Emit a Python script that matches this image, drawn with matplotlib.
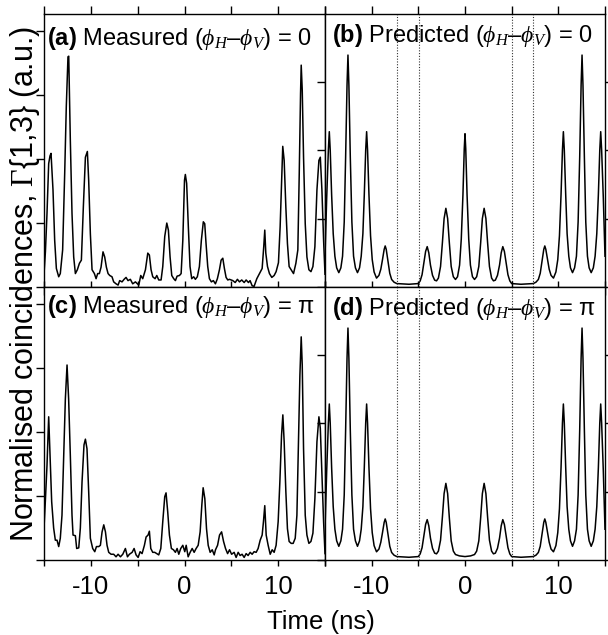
import numpy as np
import matplotlib
matplotlib.use('Agg')
import matplotlib.pyplot as plt

plt.rcParams['font.family'] = 'Liberation Sans'
plt.rcParams['mathtext.fontset'] = 'custom'
plt.rcParams['mathtext.rm'] = 'Liberation Sans'
plt.rcParams['mathtext.bf'] = 'Liberation Sans:bold'
plt.rcParams['mathtext.it'] = 'Liberation Serif:italic'
plt.rcParams['mathtext.sf'] = 'Liberation Serif'
plt.rcParams['axes.unicode_minus'] = False

# ---------------- data ---------------- #
# (a) measured, phase difference 0
xa = [-15.0, -14.85, -14.68, -14.50, -14.36, -14.25, -14.04, -13.86, -13.68, -13.43,
      -13.26, -13.01, -12.79, -12.62, -12.44, -12.36, -12.19, -12.01, -11.83, -11.65,
      -11.44, -11.22, -11.01, -10.80, -10.58, -10.37, -10.23, -10.05, -9.87, -9.62,
      -9.44, -9.27, -9.09, -8.91, -8.70, -8.52, -8.34, -8.16, -7.98, -7.74,
      -7.56, -7.31, -7.09, -6.92, -6.67, -6.45, -6.24, -6.03, -5.78, -5.53,
      -5.24, -4.88, -4.67, -4.46, -4.17, -3.92, -3.75, -3.57, -3.39, -3.14,
      -2.96, -2.75, -2.50, -2.32, -2.11, -1.89, -1.72, -1.54, -1.36, -1.15,
      -0.97, -0.79, -0.54, -0.36, -0.18, 0.0, 0.09, 0.23, 0.41, 0.59,
      0.77, 0.98, 1.16, 1.37, 1.59, 1.80, 2.01, 2.16, 2.30, 2.48,
      2.66, 2.87, 3.08, 3.30, 3.51, 3.73, 3.91, 4.09, 4.26, 4.44,
      4.62, 4.80, 5.16, 5.41, 5.65, 5.87, 6.11, 6.37, 6.58, 6.83,
      7.00, 7.22, 7.43, 7.72, 8.00, 8.29, 8.46, 8.57, 8.68, 8.86,
      9.07, 9.32, 9.57, 9.78, 10.03, 10.21, 10.39, 10.49, 10.64, 10.82,
      10.99, 11.17, 11.39, 11.64, 11.89, 12.10, 12.25, 12.39, 12.46, 12.57,
      12.71, 12.89, 13.07, 13.28, 13.50, 13.71, 13.92, 14.14, 14.35, 14.50,
      14.67, 14.85, 15.0]
ya = [0.20, 0.55, 1.15, 1.93, 2.05, 2.09, 1.52, 0.73, 0.29, 0.16,
      0.21, 0.58, 1.78, 2.82, 3.60, 3.61, 2.30, 1.15, 0.47, 0.21,
      0.27, 0.37, 0.42, 1.25, 2.03, 2.12, 1.67, 0.83, 0.27, 0.21,
      0.13, 0.21, 0.21, 0.31, 0.55, 0.47, 0.31, 0.21, 0.18, 0.16,
      0.08, 0.05, 0.03, 0.10, 0.08, 0.12, 0.15, 0.10, 0.12, 0.05,
      0.08, 0.03, 0.18, 0.13, 0.27, 0.53, 0.50, 0.27, 0.16, 0.13,
      0.18, 0.11, 0.11, 0.32, 0.79, 1.00, 0.89, 0.47, 0.18, 0.13,
      0.10, 0.17, 0.18, 0.21, 0.73, 1.67, 1.76, 1.62, 0.94, 0.32,
      0.13, 0.16, 0.12, 0.16, 0.32, 0.73, 1.02, 0.99, 0.68, 0.32,
      0.13, 0.08, 0.10, 0.05, 0.13, 0.27, 0.42, 0.45, 0.29, 0.15,
      0.11, 0.12, 0.10, 0.07, 0.12, 0.08, 0.11, 0.07, 0.11, 0.07,
      0.10, 0.02, 0.01, 0.13, 0.21, 0.29, 0.63, 0.89, 0.53, 0.32,
      0.21, 0.15, 0.18, 0.24, 0.38, 0.94, 1.77, 2.20, 1.98, 1.25,
      0.68, 0.32, 0.27, 0.21, 0.37, 0.58, 1.77, 3.03, 3.47, 3.08,
      2.03, 0.99, 0.47, 0.27, 0.24, 0.32, 0.63, 1.52, 1.98, 2.03,
      1.52, 0.73, 0.20]

# (c) measured, phase difference pi
xc = [-15.0, -14.86, -14.68, -14.50, -14.36, -14.18, -13.97, -13.79, -13.61, -13.43,
      -13.26, -13.08, -12.90, -12.72, -12.54, -12.37, -12.19, -12.01, -11.90, -11.65,
      -11.51, -11.29, -11.12, -10.94, -10.73, -10.58, -10.41, -10.23, -10.05, -9.80,
      -9.58, -9.40, -9.15, -8.98, -8.80, -8.62, -8.44, -8.27, -8.09, -7.84,
      -7.56, -7.31, -7.09, -6.84, -6.59, -6.31, -6.09, -5.88, -5.59, -5.38,
      -5.17, -4.95, -4.74, -4.53, -4.28, -4.10, -3.89, -3.75, -3.60, -3.39,
      -3.18, -2.96, -2.75, -2.53, -2.32, -2.11, -1.97, -1.79, -1.61, -1.40,
      -1.18, -0.97, -0.79, -0.61, -0.40, -0.18, 0.03, 0.18, 0.39, 0.60,
      0.82, 1.03, 1.24, 1.46, 1.67, 1.85, 1.99, 2.17, 2.35, 2.53,
      2.74, 2.96, 3.17, 3.31, 3.53, 3.74, 3.96, 4.17, 4.38, 4.60,
      4.81, 5.03, 5.30, 5.51, 5.73, 5.94, 6.15, 6.37, 6.58, 6.79,
      7.01, 7.22, 7.43, 7.65, 7.86, 8.08, 8.29, 8.43, 8.57, 8.72,
      8.93, 9.15, 9.36, 9.57, 9.78, 10.00, 10.18, 10.36, 10.50, 10.64,
      10.82, 10.99, 11.17, 11.39, 11.60, 11.82, 12.00, 12.17, 12.32, 12.46,
      12.57, 12.71, 12.89, 13.07, 13.28, 13.50, 13.71, 13.92, 14.14, 14.35,
      14.50, 14.67, 14.85, 15.0]
yc = [0.50, 0.91, 1.48, 2.24, 1.64, 0.91, 0.50, 0.31, 0.31, 0.21,
      0.34, 0.70, 1.64, 2.52, 3.05, 2.52, 1.64, 0.70, 0.39, 0.38,
      0.18, 0.19, 0.50, 1.22, 1.80, 1.89, 1.74, 1.07, 0.34, 0.18,
      0.13, 0.21, 0.21, 0.23, 0.44, 0.55, 0.44, 0.23, 0.12, 0.09,
      0.09, 0.05, 0.09, 0.05, 0.09, 0.18, 0.05, 0.09, 0.12, 0.18,
      0.08, 0.04, 0.13, 0.10, 0.23, 0.36, 0.39, 0.45, 0.18, 0.12,
      0.12, 0.10, 0.08, 0.18, 0.60, 0.99, 1.05, 0.75, 0.39, 0.18,
      0.16, 0.12, 0.18, 0.09, 0.18, 0.23, 0.13, 0.23, 0.05, 0.12,
      0.18, 0.12, 0.18, 0.23, 0.44, 0.86, 1.13, 0.96, 0.49, 0.23,
      0.12, 0.16, 0.08, 0.16, 0.23, 0.39, 0.44, 0.29, 0.18, 0.10,
      0.16, 0.09, 0.12, 0.04, 0.12, 0.07, 0.09, 0.04, 0.10, 0.07,
      0.12, 0.09, 0.13, 0.12, 0.18, 0.31, 0.39, 0.60, 0.85, 0.39,
      0.23, 0.09, 0.16, 0.12, 0.23, 0.60, 1.22, 1.95, 2.27, 1.85,
      1.07, 0.49, 0.29, 0.26, 0.26, 0.34, 0.70, 1.85, 2.89, 3.49,
      3.05, 1.74, 0.70, 0.39, 0.26, 0.29, 0.42, 0.96, 1.85, 2.24,
      2.06, 1.33, 0.60, 0.10]

# (b) predicted, phase difference 0
xb = [-15.0, -14.82, -14.64, -14.54, -14.44, -14.29, -14.12, -13.94, -13.75, -13.52,
      -13.30, -13.12, -12.94, -12.79, -12.64, -12.54, -12.44, -12.29, -12.12, -11.94,
      -11.74, -11.52, -11.30, -11.12, -10.94, -10.79, -10.64, -10.54, -10.44, -10.29,
      -10.12, -9.94, -9.74, -9.48, -9.22, -9.02, -8.84, -8.66, -8.55, -8.44,
      -8.26, -8.06, -7.86, -7.60, -7.30, -6.00, -5.00, -4.80, -4.60, -4.40,
      -4.22, -4.05, -3.88, -3.70, -3.48, -3.25, -3.05, -2.85, -2.62, -2.42,
      -2.24, -2.05, -1.86, -1.68, -1.48, -1.25, -1.02, -0.80, -0.58, -0.40,
      -0.22, -0.08, 0.0, 0.08, 0.22, 0.40, 0.58, 0.80, 1.02, 1.25,
      1.48, 1.68, 1.86, 2.05, 2.24, 2.42, 2.62, 2.85, 3.05, 3.25,
      3.48, 3.70, 3.88, 4.05, 4.22, 4.40, 4.60, 4.80, 5.00, 6.00,
      7.30, 7.60, 7.86, 8.06, 8.26, 8.44, 8.55, 8.66, 8.84, 9.02,
      9.22, 9.48, 9.74, 9.94, 10.12, 10.29, 10.44, 10.54, 10.64, 10.79,
      10.94, 11.12, 11.30, 11.52, 11.74, 11.94, 12.12, 12.29, 12.44, 12.54,
      12.64, 12.79, 12.94, 13.12, 13.30, 13.52, 13.75, 13.94, 14.12, 14.29,
      14.44, 14.54, 14.64, 14.82, 15.0]
yb = [0.45, 1.30, 2.00, 2.27, 2.00, 1.35, 0.78, 0.45, 0.28, 0.21,
      0.28, 0.45, 0.95, 1.90, 2.95, 3.39, 2.95, 1.90, 0.95, 0.45,
      0.28, 0.21, 0.28, 0.45, 0.78, 1.35, 2.00, 2.27, 2.00, 1.35,
      0.75, 0.40, 0.22, 0.13, 0.17, 0.26, 0.40, 0.55, 0.60, 0.55,
      0.38, 0.20, 0.11, 0.07, 0.05, 0.04, 0.05, 0.09, 0.18, 0.36,
      0.52, 0.59, 0.50, 0.32, 0.17, 0.10, 0.09, 0.13, 0.30, 0.65,
      1.00, 1.15, 1.00, 0.65, 0.30, 0.15, 0.11, 0.15, 0.32, 0.70,
      1.35, 2.02, 2.24, 2.02, 1.35, 0.70, 0.32, 0.15, 0.11, 0.15,
      0.30, 0.65, 1.00, 1.15, 1.00, 0.65, 0.30, 0.13, 0.09, 0.10,
      0.17, 0.32, 0.50, 0.59, 0.52, 0.36, 0.18, 0.09, 0.05, 0.04,
      0.05, 0.07, 0.11, 0.20, 0.38, 0.55, 0.60, 0.55, 0.40, 0.26,
      0.17, 0.13, 0.22, 0.40, 0.75, 1.35, 2.00, 2.27, 2.00, 1.35,
      0.78, 0.45, 0.28, 0.21, 0.28, 0.45, 0.95, 1.90, 2.95, 3.39,
      2.95, 1.90, 0.95, 0.45, 0.28, 0.21, 0.28, 0.45, 0.78, 1.35,
      2.00, 2.27, 2.00, 1.30, 0.45]

# (d) predicted, phase difference pi
xd = [-15.0, -14.82, -14.64, -14.54, -14.44, -14.29, -14.12, -13.94, -13.75, -13.52,
      -13.30, -13.12, -12.94, -12.79, -12.64, -12.54, -12.44, -12.29, -12.12, -11.94,
      -11.74, -11.52, -11.30, -11.12, -10.94, -10.79, -10.64, -10.54, -10.44, -10.29,
      -10.12, -9.94, -9.74, -9.48, -9.22, -9.02, -8.84, -8.66, -8.55, -8.44,
      -8.26, -8.06, -7.86, -7.60, -7.30, -6.00, -5.00, -4.80, -4.60, -4.40,
      -4.22, -4.05, -3.88, -3.70, -3.48, -3.25, -3.05, -2.85, -2.62, -2.42,
      -2.24, -2.05, -1.86, -1.68, -1.48, -1.25, -1.02, -0.60, 0.0, 0.60,
      1.02, 1.25, 1.48, 1.68, 1.86, 2.05, 2.24, 2.42, 2.62, 2.85,
      3.05, 3.25, 3.48, 3.70, 3.88, 4.05, 4.22, 4.40, 4.60, 4.80,
      5.00, 6.00, 7.30, 7.60, 7.86, 8.06, 8.26, 8.44, 8.55, 8.66,
      8.84, 9.02, 9.22, 9.48, 9.74, 9.94, 10.12, 10.29, 10.44, 10.54,
      10.64, 10.79, 10.94, 11.12, 11.30, 11.52, 11.74, 11.94, 12.12, 12.29,
      12.44, 12.54, 12.64, 12.79, 12.94, 13.12, 13.30, 13.52, 13.75, 13.94,
      14.12, 14.29, 14.44, 14.54, 14.64, 14.82, 15.0]
yd = [0.45, 1.30, 2.00, 2.28, 2.00, 1.35, 0.78, 0.45, 0.28, 0.20,
      0.28, 0.45, 0.95, 1.90, 2.95, 3.39, 2.95, 1.90, 0.95, 0.45,
      0.28, 0.20, 0.28, 0.45, 0.78, 1.35, 2.00, 2.28, 2.00, 1.35,
      0.75, 0.40, 0.21, 0.12, 0.16, 0.26, 0.40, 0.55, 0.60, 0.55,
      0.38, 0.20, 0.11, 0.07, 0.05, 0.04, 0.05, 0.09, 0.18, 0.36,
      0.52, 0.59, 0.50, 0.32, 0.17, 0.10, 0.09, 0.13, 0.29, 0.63,
      0.97, 1.12, 0.97, 0.62, 0.28, 0.13, 0.08, 0.06, 0.05, 0.06,
      0.08, 0.13, 0.28, 0.62, 0.97, 1.12, 0.97, 0.63, 0.29, 0.13,
      0.09, 0.10, 0.17, 0.32, 0.50, 0.59, 0.52, 0.36, 0.18, 0.09,
      0.05, 0.04, 0.05, 0.07, 0.11, 0.20, 0.38, 0.55, 0.60, 0.55,
      0.40, 0.26, 0.16, 0.12, 0.21, 0.40, 0.75, 1.35, 2.00, 2.28,
      2.00, 1.35, 0.78, 0.45, 0.28, 0.20, 0.28, 0.45, 0.95, 1.90,
      2.95, 3.39, 2.95, 1.90, 0.95, 0.45, 0.28, 0.20, 0.28, 0.45,
      0.78, 1.35, 2.00, 2.28, 2.00, 1.30, 0.45]

# dotted guide lines in the predicted panels (ns)
guide_x = [-7.3, -4.95, 5.0, 7.3]

labels = [r"$\mathbf{(a)}$ Measured ($\phi_H$–$\phi_V$) = 0",
          r"$\mathbf{(b)}$ Predicted ($\phi_H$–$\phi_V$) = 0",
          r"$\mathbf{(c)}$ Measured ($\phi_H$–$\phi_V$) = π",
          r"$\mathbf{(d)}$ Predicted ($\phi_H$–$\phi_V$) = π"]

# ---------------- figure ---------------- #
W, H = 608, 635
fig = plt.figure(figsize=(W / 100, H / 100), dpi=100)

def px_axes(x0, y0, x1, y1):
    return fig.add_axes([x0 / W, 1 - y1 / H, (x1 - x0) / W, (y1 - y0) / H])

ax_a = px_axes(44, 14, 325, 287)
ax_b = px_axes(325, 14, 605, 287)
ax_c = px_axes(44, 287, 325, 560)
ax_d = px_axes(325, 287, 605, 560)

panels = [(ax_a, xa, ya), (ax_b, xb, yb), (ax_c, xc, yc), (ax_d, xd, yd)]
text_pos = [(0.011, 0.886), (0.025, 0.898), (0.011, 0.905), (0.025, 0.897)]

for i, (ax, x, y) in enumerate(panels):
    ax.plot(x, y, color='black', lw=1.1)
    ax.set_xlim(-15, 15)
    ax.set_xticks(range(-15, 16, 5))
    xlen = 6 if i in (0, 1) else 4
    ax.tick_params(axis='x', which='both', direction='out', length=xlen, width=1,
                   top=True, bottom=True, labelsize=18.5, pad=7)
    for s in ax.spines.values():
        s.set_linewidth(1.0)
    if i in (0, 2):
        ax.set_ylim(0, 4.27)
        ax.set_yticks([0, 1, 2, 3, 4])
        ax.tick_params(axis='y', direction='out', length=6, width=1,
                       left=True, right=False, labelleft=False)
    else:
        ax.set_ylim(0, 3.99)
        ax.set_yticks([0, 1, 2, 3])
        ax.tick_params(axis='y', direction='out', length=6, width=1,
                       left=True, right=True, labelleft=False)
        for gx in guide_x:
            ax.axvline(gx, color='#333333', lw=0.8, ls=(0, (1, 1.5)))
    if i in (2, 3):
        ax.set_xticklabels(['', '-10', '', '0', '', '10', ''])
    else:
        ax.set_xticklabels([])
    tx, ty = text_pos[i]
    ax.text(tx, ty, labels[i], transform=ax.transAxes, fontsize=17,
            va='baseline', ha='left')

fig.text(25 / W, 1 - 284 / H, r"Normalised coincidences, $\mathsf{\Gamma}${1,3} (a.u.)",
         rotation=90, ha='center', va='center', fontsize=22)
fig.text(321 / W, 1 - 622 / H, "Time (ns)", ha='center', va='center', fontsize=18.5)

fig.savefig('out.png', dpi=100)
